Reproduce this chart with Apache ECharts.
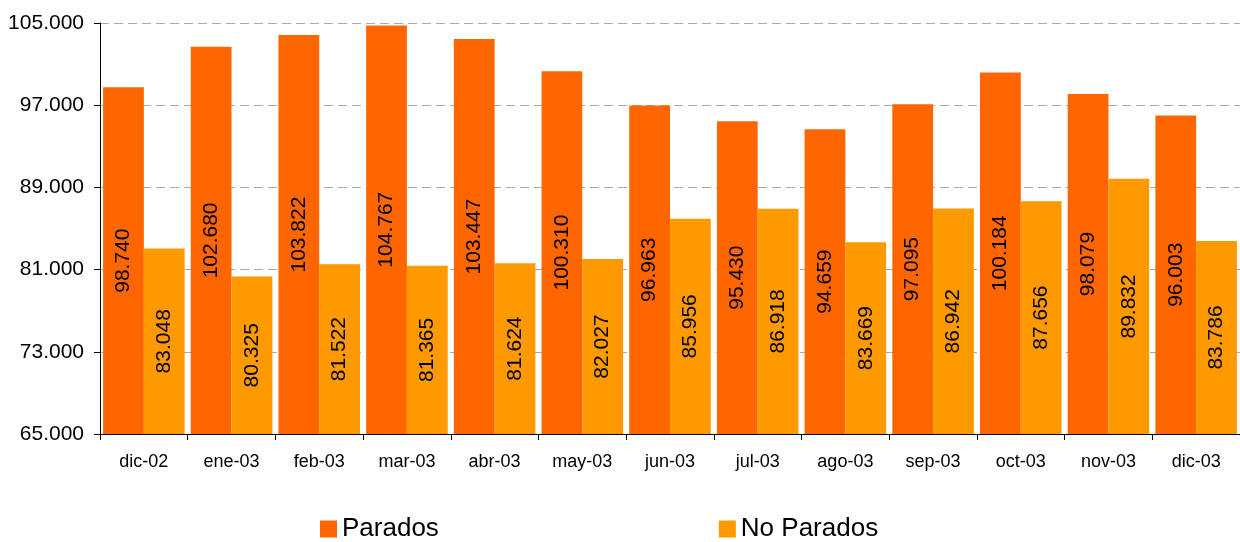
<!DOCTYPE html>
<html>
<head>
<meta charset="utf-8">
<script src="https://cdn.jsdelivr.net/npm/echarts@6/dist/echarts.min.js"></script>
<style>
  html, body { margin: 0; padding: 0; background: #fff; }
  #chart { width: 1240px; height: 542px; }
</style>
</head>
<body>
<div id="chart"></div>
<script>
  // months
  const months = ['dic-02', 'ene-03', 'feb-03', 'mar-03', 'abr-03', 'may-03', 'jun-03',
    'jul-03', 'ago-03', 'sep-03', 'oct-03', 'nov-03', 'dic-03']
  const parados = [98740, 102680, 103822, 104767, 103447, 100310, 96963,
    95430, 94659, 97095, 100184, 98079, 96003]
  const noParados = [83048, 80325, 81522, 81365, 81624, 82027, 85956,
    86918, 83669, 86942, 87656, 89832, 83786]

  // 98740 -> "98.740"
  const fmt = v => String(v).replace(/\B(?=(\d{3})+(?!\d))/g, '.')

  const labelStyle = {
    show: true,
    position: 'inside',
    rotate: 90,
    color: '#000',
    fontFamily: 'Liberation Sans, Arial, sans-serif',
    fontSize: 21,
    formatter: p => fmt(p.value)
  }

  const chart = echarts.init(document.getElementById('chart'))
  chart.setOption({
    animation: false,
    textStyle: { fontFamily: 'Liberation Sans, Arial, sans-serif' },
    grid: { left: 100, right: 0, top: 23, bottom: 108 },
    legend: {
      top: 516,
      left: 320,
      padding: 0,
      itemGap: 280,
      itemWidth: 17,
      itemHeight: 17,
      icon: 'rect',
      textStyle: { fontSize: 26, color: '#000', padding: [2, 0, 0, 0] },
      data: ['Parados', 'No Parados']
    },
    xAxis: {
      type: 'category',
      data: months,
      axisLine: { lineStyle: { color: '#000', width: 1 } },
      axisTick: { show: true, length: 6, lineStyle: { color: '#000' } },
      axisLabel: { color: '#000', fontSize: 18, margin: 19 }
    },
    yAxis: {
      type: 'value',
      min: 65000,
      max: 105000,
      interval: 8000,
      axisLine: { show: true, lineStyle: { color: '#000', width: 1 } },
      axisTick: { show: true, length: 6, lineStyle: { color: '#000' } },
      axisLabel: { color: '#000', fontSize: 21, margin: 16, formatter: v => fmt(v) },
      splitLine: { lineStyle: { color: '#aaa', type: [9, 5] } }
    },
    series: [
      {
        name: 'Parados',
        type: 'bar',
        data: parados,
        barGap: '0%',
        barCategoryGap: '7%',
        itemStyle: { color: '#FF6600' },
        label: labelStyle
      },
      {
        name: 'No Parados',
        type: 'bar',
        data: noParados,
        barGap: '0%',
        barCategoryGap: '7%',
        itemStyle: { color: '#FF9900' },
        label: labelStyle
      }
    ]
  })
</script>
</body>
</html>
